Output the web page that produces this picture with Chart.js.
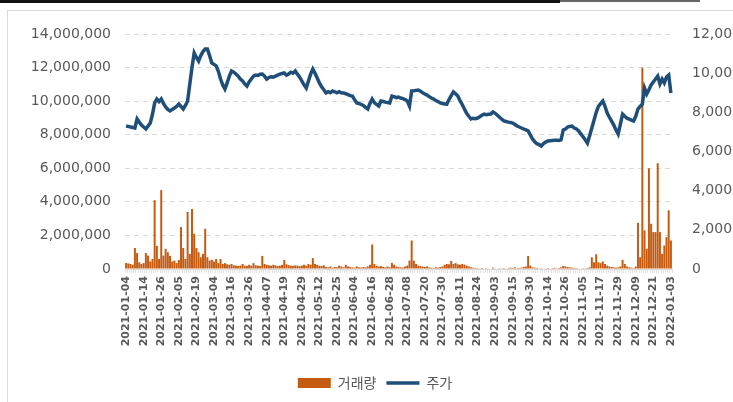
<!DOCTYPE html>
<html lang="ko">
<head>
    <meta charset="UTF-8">
    <title>거래량 / 주가</title>
    <script src="https://cdn.jsdelivr.net/npm/chart.js"></script>
    <style>
        * { margin: 0; padding: 0; }
        body {
            width: 733px;
            height: 402px;
            overflow: hidden;
            background: #fff;
            position: relative;
        }
        .topbar { position: absolute; left: 0; top: 0; width: 560px; height: 3px; background: #111; }
        .topbar2 { position: absolute; left: 560px; top: 0; width: 140px; height: 2px; background: #666; }
        .frame {
            position: absolute;
            left: 7px; top: 10px;
            width: 800px; height: 500px;
            border: 1px solid #d9d9d9;
        }
        #myChart { position: absolute; left: 0; top: 0; }
    </style>
</head>
<body>
<div class="topbar"></div>
<div class="topbar2"></div>
<div class="frame"></div>
<canvas id="myChart" width="750" height="402"></canvas>

<script>
    // x-axis labels, one every 8 trading days
    const tickLabels = [
        '2021-01-04', '2021-01-14', '2021-01-26', '2021-02-05', '2021-02-19', '2021-03-04',
        '2021-03-16', '2021-03-26', '2021-04-07', '2021-04-19', '2021-04-29', '2021-05-12',
        '2021-05-25', '2021-06-04', '2021-06-16', '2021-06-28', '2021-07-08', '2021-07-20',
        '2021-07-30', '2021-08-11', '2021-08-24', '2021-09-03', '2021-09-15', '2021-09-30',
        '2021-10-14', '2021-10-26', '2021-11-05', '2021-11-17', '2021-11-29', '2021-12-09',
        '2021-12-21', '2022-01-03'
    ];

    // 거래량 (shares), one per trading day
    const volume = [
        360000, 330000, 300000, 250000, 1250000, 950000, 400000, 300000, 350000, 950000,
        800000, 450000, 600000, 4100000, 1370000, 600000, 4700000, 800000, 1200000, 1000000,
        780000, 450000, 500000, 350000, 540000, 2500000, 1250000, 600000, 3400000, 900000,
        3570000, 2100000, 1250000, 1000000, 700000, 900000, 2400000, 700000, 500000, 550000,
        450000, 600000, 350000, 600000, 300000, 350000, 280000, 250000, 300000, 220000,
        200000, 180000, 200000, 300000, 200000, 180000, 250000, 200000, 350000, 220000,
        200000, 180000, 780000, 300000, 250000, 220000, 200000, 250000, 220000, 180000,
        200000, 250000, 540000, 280000, 230000, 200000, 180000, 220000, 200000, 170000,
        200000, 250000, 200000, 300000, 250000, 650000, 300000, 250000, 200000, 180000,
        220000, 120000, 100000, 150000, 80000, 120000, 100000, 200000, 150000, 100000,
        250000, 150000, 120000, 100000, 80000, 150000, 100000, 90000, 120000, 100000,
        150000, 250000, 1460000, 300000, 200000, 150000, 180000, 120000, 100000, 150000,
        100000, 360000, 250000, 150000, 120000, 100000, 90000, 150000, 200000, 500000,
        1700000, 500000, 300000, 200000, 180000, 150000, 120000, 150000, 100000, 80000,
        60000, 100000, 80000, 120000, 150000, 250000, 300000, 280000, 480000, 300000,
        350000, 280000, 250000, 300000, 260000, 200000, 150000, 100000, 80000, 60000,
        50000, 40000, 60000, 30000, 50000, 40000, 30000, 80000, 40000, 30000,
        50000, 40000, 60000, 30000, 50000, 80000, 60000, 100000, 50000, 60000,
        80000, 120000, 150000, 780000, 200000, 100000, 80000, 60000, 40000, 50000,
        30000, 40000, 60000, 30000, 50000, 70000, 40000, 60000, 100000, 180000,
        150000, 120000, 100000, 80000, 60000, 50000, 40000, 30000, 50000, 40000,
        60000, 100000, 700000, 400000, 880000, 400000, 350000, 450000, 300000, 200000,
        150000, 120000, 100000, 80000, 100000, 150000, 540000, 300000, 150000, 100000,
        80000, 60000, 150000, 2750000, 700000, 12000000, 2300000, 1200000, 6000000, 2700000,
        2200000, 2200000, 6300000, 2200000, 900000, 1400000, 1900000, 3500000, 1700000
    ];

    // 주가 (won), one per trading day
    const price = [
        7300, 7280, 7250, 7230, 7200, 7660, 7500, 7350, 7250, 7150,
        7300, 7450, 7900, 8480, 8680, 8550, 8680, 8450, 8270, 8150,
        8070, 8150, 8220, 8300, 8420, 8300, 8170, 8350, 8580, 9450,
        10300, 11030, 10800, 10620, 10900, 11100, 11230, 11230, 10900, 10520,
        10450, 10370, 10100, 9700, 9400, 9190, 9500, 9850, 10110, 10050,
        9960, 9850, 9700, 9600, 9450, 9340, 9550, 9700, 9850, 9900,
        9880, 9950, 9960, 9850, 9700, 9780, 9820, 9800, 9850, 9900,
        9950, 9980, 10010, 9900, 9960, 10050, 10000, 10110, 9950, 9800,
        9600, 9400, 9240, 9600, 9950, 10210, 10000, 9750, 9500, 9300,
        9150, 8990, 9050, 9000, 9090, 9050, 9000, 9050, 9000, 8990,
        8950, 8900, 8850, 8830, 8650, 8480, 8450, 8400, 8350, 8250,
        8170, 8450, 8680, 8500, 8400, 8320, 8580, 8550, 8520, 8500,
        8480, 8830, 8800, 8750, 8780, 8730, 8700, 8650, 8580, 8320,
        9090, 9100, 9120, 9140, 9080, 9000, 8940, 8880, 8800, 8730,
        8680, 8600, 8550, 8480, 8450, 8430, 8420, 8650, 8850, 9040,
        8950, 8830, 8600, 8400, 8170, 7950, 7800, 7660, 7700, 7680,
        7710, 7780, 7850, 7910, 7880, 7900, 7910, 8020, 7950, 7850,
        7750, 7650, 7560, 7530, 7500, 7480, 7450, 7380, 7300, 7250,
        7200, 7150, 7100, 7050, 6850, 6640, 6500, 6400, 6350, 6280,
        6400, 6480, 6540, 6550, 6560, 6570, 6580, 6560, 6590, 7100,
        7150, 7250, 7280, 7300, 7200, 7150, 7050, 6900, 6750, 6600,
        6430, 6800, 7200, 7600, 8000, 8300, 8450, 8580, 8300, 7960,
        7750, 7550, 7350, 7100, 6890, 7400, 7910, 7800, 7700, 7650,
        7600, 7560, 7800, 8170, 8300, 8420, 9240, 8940, 9150, 9400,
        9550, 9700, 9850, 9450, 9700, 9500, 9800, 9900, 8990
    ];

    const barColor = '#C55A11';
    const lineColor = '#1F4E79';
    const textColor = '#595959';

    // category per trading day, named only where the axis shows a date
    const categories = volume.map(function (v, i) {
        return i % 8 === 0 ? tickLabels[i / 8] : '';
    });

    const data = {
        labels: categories,
        datasets: [
            {
                type: 'bar',
                label: '거래량',
                data: volume,
                backgroundColor: barColor,
                borderWidth: 0,
                barPercentage: 0.9,
                categoryPercentage: 1.0,
                yAxisID: 'y',
                order: 1
            },
            {
                type: 'line',
                label: '주가',
                data: price,
                borderColor: lineColor,
                borderWidth: 3.5,
                pointRadius: 0,
                tension: 0,
                yAxisID: 'y1',
                order: 0
            }
        ]
    };

    const config = {
        type: 'bar',
        data,
        options: {
            responsive: false,
            animation: false,
            devicePixelRatio: 1,
            layout: { padding: { top: 34, bottom: 2, left: 0, right: 0 } },
            plugins: {
                tooltip: { enabled: false },
                legend: {
                    position: 'bottom',
                    labels: {
                        usePointStyle: true,
                        pointStyleWidth: 33,
                        boxHeight: 10,
                        padding: 10,
                        color: textColor,
                        font: { family: "'Noto Sans CJK KR', 'DejaVu Sans', sans-serif", size: 14 },
                        generateLabels: function () {
                            return [
                                { text: '거래량', fillStyle: barColor, strokeStyle: barColor, lineWidth: 0,
                                  pointStyle: 'rect', fontColor: textColor, datasetIndex: 0 },
                                { text: '주가', fillStyle: lineColor, strokeStyle: lineColor, lineWidth: 3.5,
                                  pointStyle: 'line', fontColor: textColor, datasetIndex: 1 }
                            ];
                        }
                    }
                }
            },
            scales: {
                x: {
                    afterFit: function (s) { s.height = 97; },
                    grid: {
                        display: true,
                        drawOnChartArea: false,
                        tickLength: 4,
                        color: '#e3e3e3'
                    },
                    border: { display: true, color: '#d9d9d9' },
                    ticks: {
                        autoSkip: false,
                        maxRotation: 90,
                        minRotation: 90,
                        padding: 3,
                        color: textColor,
                        font: { family: "'DejaVu Sans', sans-serif", size: 11, weight: 'bold' }
                    }
                },
                y: {
                    position: 'left',
                    min: 0,
                    max: 14000000,
                    afterFit: function (s) { s.width = 125; },
                    ticks: {
                        stepSize: 2000000,
                        padding: 14,
                        color: textColor,
                        font: { family: "'DejaVu Sans', sans-serif", size: 14 },
                        callback: function (v) { return v.toLocaleString('en-US'); }
                    },
                    grid: { color: '#d9d9d9', drawTicks: false },
                    border: { display: false, dash: [5, 4] }
                },
                y1: {
                    position: 'right',
                    min: 0,
                    max: 12000,
                    afterFit: function (s) { s.width = 78; },
                    ticks: {
                        stepSize: 2000,
                        padding: 20,
                        color: textColor,
                        font: { family: "'DejaVu Sans', sans-serif", size: 14 },
                        callback: function (v) { return v.toLocaleString('en-US'); }
                    },
                    grid: { display: false, drawTicks: false },
                    border: { display: false }
                }
            }
        }
    };

    const myChart = new Chart(document.getElementById('myChart'), config);
</script>
</body>
</html>
